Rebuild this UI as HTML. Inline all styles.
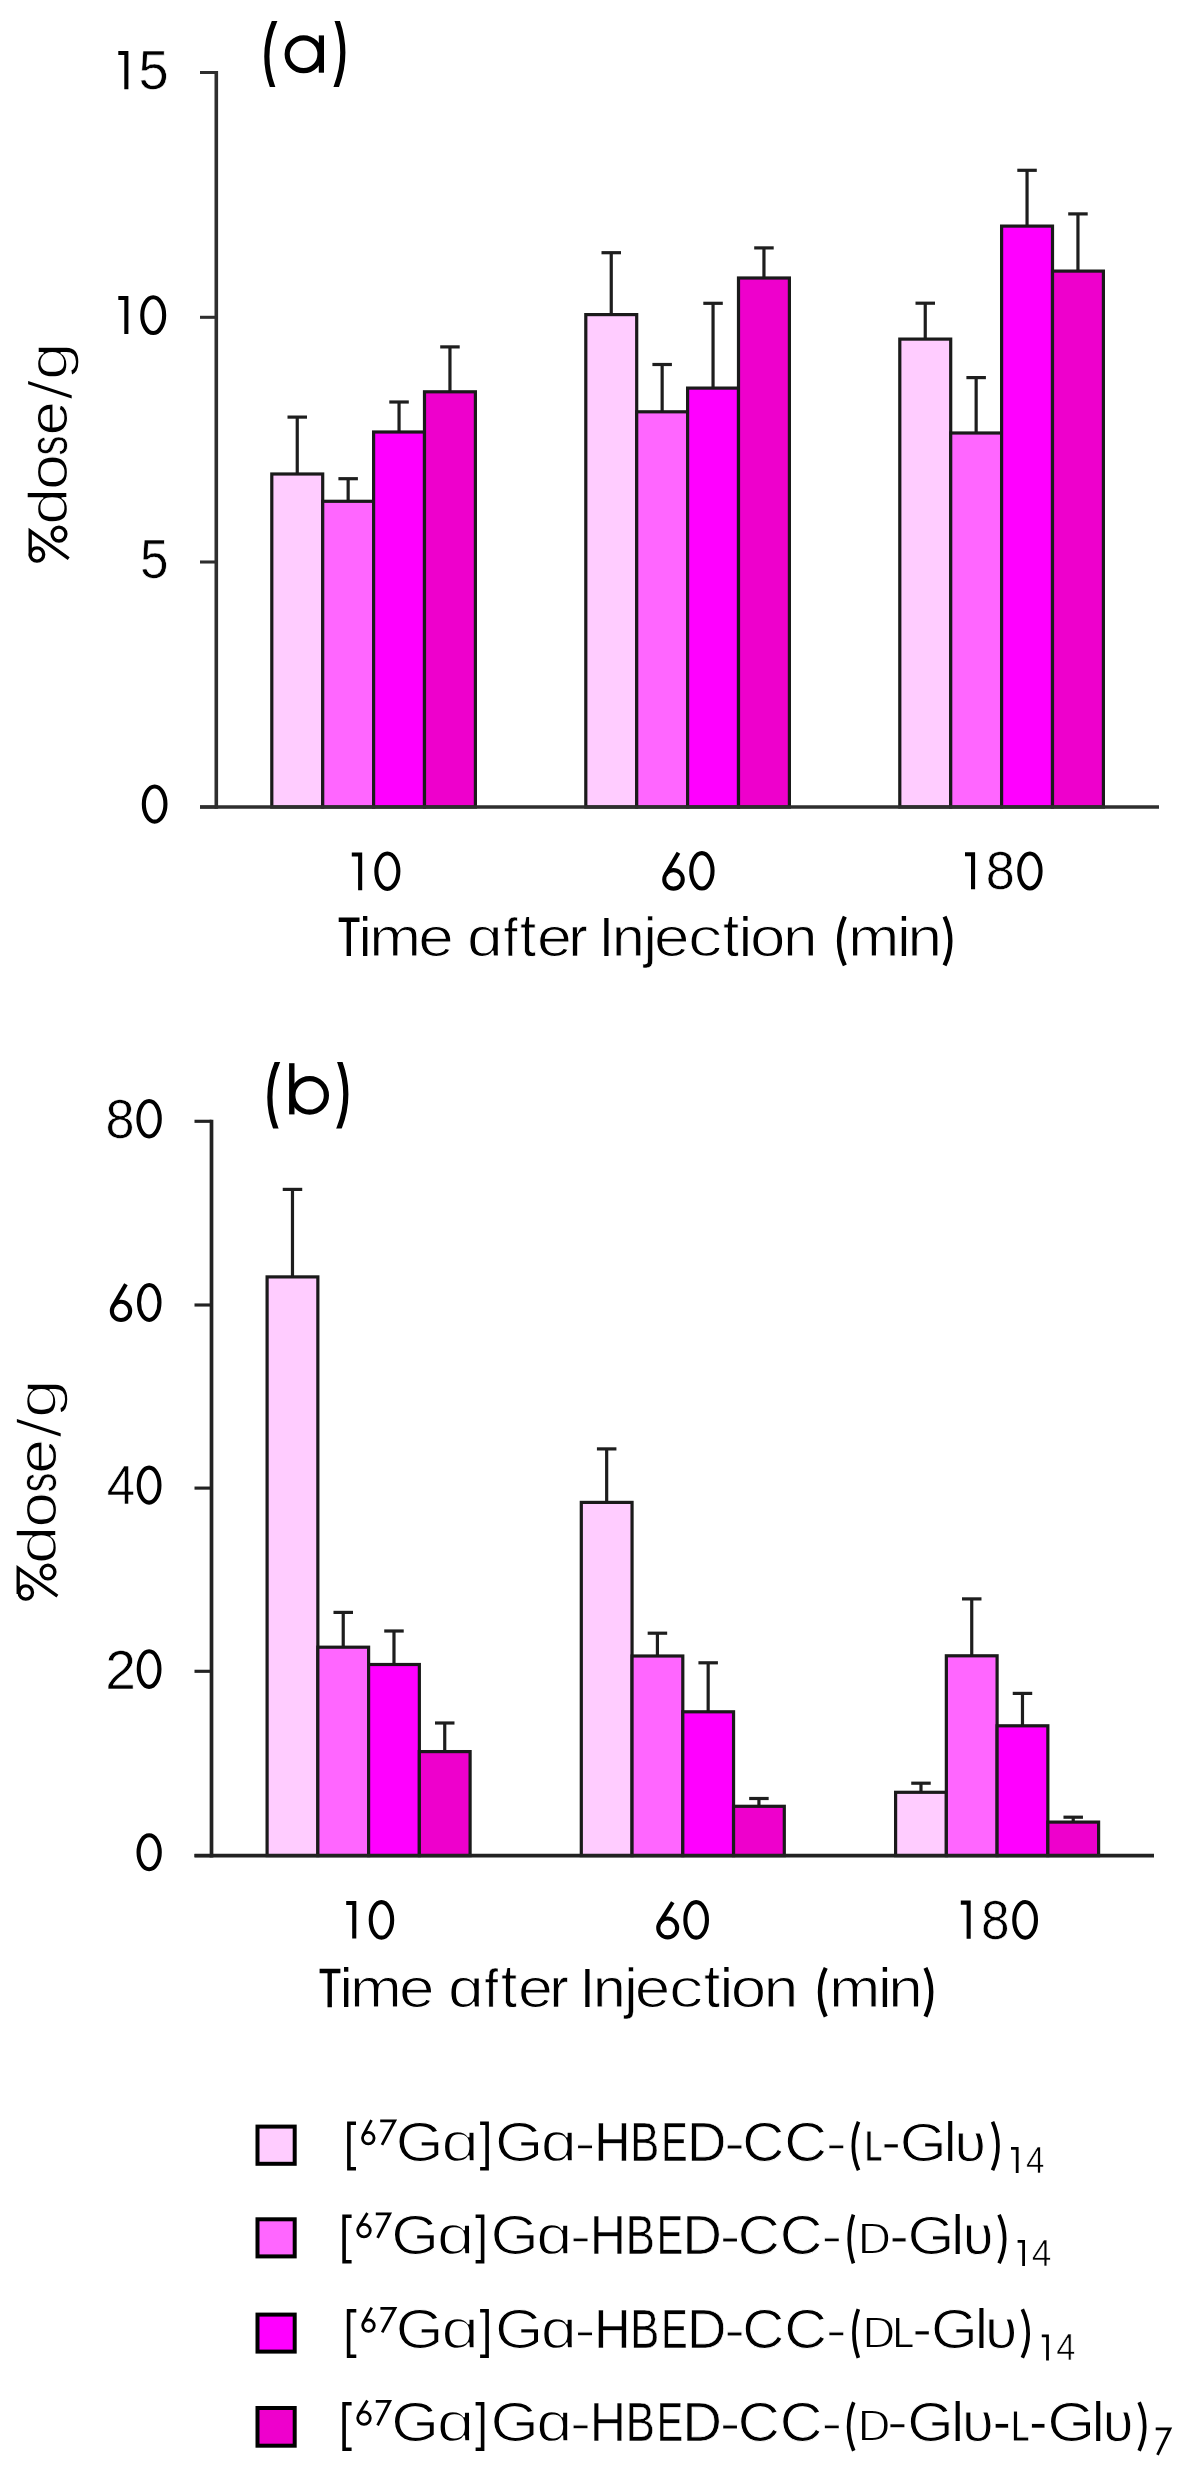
<!DOCTYPE html>
<html><head><meta charset="utf-8"><style>
html,body{margin:0;padding:0;background:#fff;}
svg{display:block;will-change:transform;}
text{font-family:"Liberation Sans",sans-serif;font-kerning:none;}
</style></head><body>
<svg width="1183" height="2474" viewBox="0 0 1183 2474">
<rect width="1183" height="2474" fill="#fff"/>
<g>
<line x1="297.25" y1="474" x2="297.25" y2="417.1" stroke="#1e1e1e" stroke-width="3.2"/>
<line x1="287.5" y1="417.1" x2="307.0" y2="417.1" stroke="#1e1e1e" stroke-width="3.2"/>
<line x1="348.15" y1="501.3" x2="348.15" y2="478.7" stroke="#1e1e1e" stroke-width="3.2"/>
<line x1="338.4" y1="478.7" x2="357.9" y2="478.7" stroke="#1e1e1e" stroke-width="3.2"/>
<line x1="399.05" y1="432" x2="399.05" y2="402" stroke="#1e1e1e" stroke-width="3.2"/>
<line x1="389.3" y1="402" x2="408.8" y2="402" stroke="#1e1e1e" stroke-width="3.2"/>
<line x1="449.95" y1="391.8" x2="449.95" y2="346.9" stroke="#1e1e1e" stroke-width="3.2"/>
<line x1="440.2" y1="346.9" x2="459.7" y2="346.9" stroke="#1e1e1e" stroke-width="3.2"/>
<line x1="611.25" y1="314.6" x2="611.25" y2="252.7" stroke="#1e1e1e" stroke-width="3.2"/>
<line x1="601.5" y1="252.7" x2="621.0" y2="252.7" stroke="#1e1e1e" stroke-width="3.2"/>
<line x1="662.15" y1="411.8" x2="662.15" y2="364.5" stroke="#1e1e1e" stroke-width="3.2"/>
<line x1="652.4" y1="364.5" x2="671.9" y2="364.5" stroke="#1e1e1e" stroke-width="3.2"/>
<line x1="713.05" y1="388.1" x2="713.05" y2="303.3" stroke="#1e1e1e" stroke-width="3.2"/>
<line x1="703.3" y1="303.3" x2="722.8" y2="303.3" stroke="#1e1e1e" stroke-width="3.2"/>
<line x1="763.95" y1="278" x2="763.95" y2="247.9" stroke="#1e1e1e" stroke-width="3.2"/>
<line x1="754.2" y1="247.9" x2="773.7" y2="247.9" stroke="#1e1e1e" stroke-width="3.2"/>
<line x1="925.25" y1="339.1" x2="925.25" y2="303.2" stroke="#1e1e1e" stroke-width="3.2"/>
<line x1="915.5" y1="303.2" x2="935.0" y2="303.2" stroke="#1e1e1e" stroke-width="3.2"/>
<line x1="976.15" y1="433" x2="976.15" y2="377.6" stroke="#1e1e1e" stroke-width="3.2"/>
<line x1="966.4" y1="377.6" x2="985.9" y2="377.6" stroke="#1e1e1e" stroke-width="3.2"/>
<line x1="1027.05" y1="226.1" x2="1027.05" y2="170.3" stroke="#1e1e1e" stroke-width="3.2"/>
<line x1="1017.3" y1="170.3" x2="1036.8" y2="170.3" stroke="#1e1e1e" stroke-width="3.2"/>
<line x1="1077.95" y1="271.1" x2="1077.95" y2="213.9" stroke="#1e1e1e" stroke-width="3.2"/>
<line x1="1068.2" y1="213.9" x2="1087.7" y2="213.9" stroke="#1e1e1e" stroke-width="3.2"/>
<rect x="271.80" y="474.00" width="50.90" height="333.00" fill="#FFCCFF" stroke="#1a1a1a" stroke-width="3.2"/>
<rect x="322.70" y="501.30" width="50.90" height="305.70" fill="#FF66FF" stroke="#1a1a1a" stroke-width="3.2"/>
<rect x="373.60" y="432.00" width="50.90" height="375.00" fill="#FF00FF" stroke="#1a1a1a" stroke-width="3.2"/>
<rect x="424.50" y="391.80" width="50.90" height="415.20" fill="#EE00CC" stroke="#1a1a1a" stroke-width="3.2"/>
<rect x="585.80" y="314.60" width="50.90" height="492.40" fill="#FFCCFF" stroke="#1a1a1a" stroke-width="3.2"/>
<rect x="636.70" y="411.80" width="50.90" height="395.20" fill="#FF66FF" stroke="#1a1a1a" stroke-width="3.2"/>
<rect x="687.60" y="388.10" width="50.90" height="418.90" fill="#FF00FF" stroke="#1a1a1a" stroke-width="3.2"/>
<rect x="738.50" y="278.00" width="50.90" height="529.00" fill="#EE00CC" stroke="#1a1a1a" stroke-width="3.2"/>
<rect x="899.80" y="339.10" width="50.90" height="467.90" fill="#FFCCFF" stroke="#1a1a1a" stroke-width="3.2"/>
<rect x="950.70" y="433.00" width="50.90" height="374.00" fill="#FF66FF" stroke="#1a1a1a" stroke-width="3.2"/>
<rect x="1001.60" y="226.10" width="50.90" height="580.90" fill="#FF00FF" stroke="#1a1a1a" stroke-width="3.2"/>
<rect x="1052.50" y="271.10" width="50.90" height="535.90" fill="#EE00CC" stroke="#1a1a1a" stroke-width="3.2"/>
<line x1="216.3" y1="70.97" x2="216.3" y2="808.8" stroke="#2e2e2e" stroke-width="3.6"/>
<line x1="200" y1="72.5" x2="216.3" y2="72.5" stroke="#2e2e2e" stroke-width="3.06"/>
<line x1="200" y1="317.3" x2="216.3" y2="317.3" stroke="#2e2e2e" stroke-width="3.06"/>
<line x1="200" y1="562" x2="216.3" y2="562" stroke="#2e2e2e" stroke-width="3.06"/>
<line x1="200" y1="807.0" x2="216.3" y2="807.0" stroke="#2e2e2e" stroke-width="3.06"/>
<line x1="200" y1="807.0" x2="1159" y2="807.0" stroke="#2e2e2e" stroke-width="3.6"/>
<line x1="292.48" y1="1276.9" x2="292.48" y2="1189.4" stroke="#1e1e1e" stroke-width="3.2"/>
<line x1="282.73" y1="1189.4" x2="302.23" y2="1189.4" stroke="#1e1e1e" stroke-width="3.2"/>
<line x1="343.23" y1="1647.2" x2="343.23" y2="1612.4" stroke="#1e1e1e" stroke-width="3.2"/>
<line x1="333.48" y1="1612.4" x2="352.98" y2="1612.4" stroke="#1e1e1e" stroke-width="3.2"/>
<line x1="393.98" y1="1664.5" x2="393.98" y2="1631" stroke="#1e1e1e" stroke-width="3.2"/>
<line x1="384.23" y1="1631" x2="403.73" y2="1631" stroke="#1e1e1e" stroke-width="3.2"/>
<line x1="444.73" y1="1751.6" x2="444.73" y2="1723" stroke="#1e1e1e" stroke-width="3.2"/>
<line x1="434.98" y1="1723" x2="454.48" y2="1723" stroke="#1e1e1e" stroke-width="3.2"/>
<line x1="606.67" y1="1502.4" x2="606.67" y2="1448.9" stroke="#1e1e1e" stroke-width="3.2"/>
<line x1="596.92" y1="1448.9" x2="616.42" y2="1448.9" stroke="#1e1e1e" stroke-width="3.2"/>
<line x1="657.42" y1="1656" x2="657.42" y2="1633.2" stroke="#1e1e1e" stroke-width="3.2"/>
<line x1="647.67" y1="1633.2" x2="667.17" y2="1633.2" stroke="#1e1e1e" stroke-width="3.2"/>
<line x1="708.17" y1="1711.8" x2="708.17" y2="1662.8" stroke="#1e1e1e" stroke-width="3.2"/>
<line x1="698.42" y1="1662.8" x2="717.92" y2="1662.8" stroke="#1e1e1e" stroke-width="3.2"/>
<line x1="758.92" y1="1806.3" x2="758.92" y2="1798.5" stroke="#1e1e1e" stroke-width="3.2"/>
<line x1="749.17" y1="1798.5" x2="768.67" y2="1798.5" stroke="#1e1e1e" stroke-width="3.2"/>
<line x1="920.98" y1="1792.3" x2="920.98" y2="1783.2" stroke="#1e1e1e" stroke-width="3.2"/>
<line x1="911.23" y1="1783.2" x2="930.73" y2="1783.2" stroke="#1e1e1e" stroke-width="3.2"/>
<line x1="971.73" y1="1655.8" x2="971.73" y2="1598.9" stroke="#1e1e1e" stroke-width="3.2"/>
<line x1="961.98" y1="1598.9" x2="981.48" y2="1598.9" stroke="#1e1e1e" stroke-width="3.2"/>
<line x1="1022.48" y1="1725.8" x2="1022.48" y2="1693.4" stroke="#1e1e1e" stroke-width="3.2"/>
<line x1="1012.73" y1="1693.4" x2="1032.22" y2="1693.4" stroke="#1e1e1e" stroke-width="3.2"/>
<line x1="1073.22" y1="1822.1" x2="1073.22" y2="1817.2" stroke="#1e1e1e" stroke-width="3.2"/>
<line x1="1063.47" y1="1817.2" x2="1082.97" y2="1817.2" stroke="#1e1e1e" stroke-width="3.2"/>
<rect x="267.10" y="1276.90" width="50.75" height="578.70" fill="#FFCCFF" stroke="#1a1a1a" stroke-width="3.2"/>
<rect x="317.85" y="1647.20" width="50.75" height="208.40" fill="#FF66FF" stroke="#1a1a1a" stroke-width="3.2"/>
<rect x="368.60" y="1664.50" width="50.75" height="191.10" fill="#FF00FF" stroke="#1a1a1a" stroke-width="3.2"/>
<rect x="419.35" y="1751.60" width="50.75" height="104.00" fill="#EE00CC" stroke="#1a1a1a" stroke-width="3.2"/>
<rect x="581.30" y="1502.40" width="50.75" height="353.20" fill="#FFCCFF" stroke="#1a1a1a" stroke-width="3.2"/>
<rect x="632.05" y="1656.00" width="50.75" height="199.60" fill="#FF66FF" stroke="#1a1a1a" stroke-width="3.2"/>
<rect x="682.80" y="1711.80" width="50.75" height="143.80" fill="#FF00FF" stroke="#1a1a1a" stroke-width="3.2"/>
<rect x="733.55" y="1806.30" width="50.75" height="49.30" fill="#EE00CC" stroke="#1a1a1a" stroke-width="3.2"/>
<rect x="895.60" y="1792.30" width="50.75" height="63.30" fill="#FFCCFF" stroke="#1a1a1a" stroke-width="3.2"/>
<rect x="946.35" y="1655.80" width="50.75" height="199.80" fill="#FF66FF" stroke="#1a1a1a" stroke-width="3.2"/>
<rect x="997.10" y="1725.80" width="50.75" height="129.80" fill="#FF00FF" stroke="#1a1a1a" stroke-width="3.2"/>
<rect x="1047.85" y="1822.10" width="50.75" height="33.50" fill="#EE00CC" stroke="#1a1a1a" stroke-width="3.2"/>
<line x1="211.5" y1="1119.7275" x2="211.5" y2="1857.4499999999998" stroke="#222" stroke-width="3.7"/>
<line x1="194.5" y1="1121.3" x2="211.5" y2="1121.3" stroke="#222" stroke-width="3.145"/>
<line x1="194.5" y1="1305" x2="211.5" y2="1305" stroke="#222" stroke-width="3.145"/>
<line x1="194.5" y1="1488.1" x2="211.5" y2="1488.1" stroke="#222" stroke-width="3.145"/>
<line x1="194.5" y1="1671.3" x2="211.5" y2="1671.3" stroke="#222" stroke-width="3.145"/>
<line x1="194.5" y1="1855.6" x2="211.5" y2="1855.6" stroke="#222" stroke-width="3.145"/>
<line x1="194.5" y1="1855.6" x2="1154" y2="1855.6" stroke="#222" stroke-width="3.7"/>
<rect x="257.50" y="2126.60" width="37.20" height="37.20" fill="#FFCCFF" stroke="#000" stroke-width="4"/>
<rect x="257.50" y="2219.30" width="37.20" height="37.10" fill="#FF66FF" stroke="#000" stroke-width="4"/>
<rect x="257.50" y="2314.60" width="37.20" height="37.00" fill="#FF00FF" stroke="#000" stroke-width="4"/>
<rect x="257.50" y="2408.00" width="37.20" height="37.70" fill="#EE00CC" stroke="#000" stroke-width="4"/>
<path d="M118.30,53.05 H126.35 V89.20" fill="none" stroke="#000" stroke-width="4.1" stroke-linejoin="miter"/>
<text transform="matrix(0.9680,0,0,0.9879,138.43,88.86)" font-size="56" fill="#000" stroke="#fff" stroke-width="0.614">5</text>
<path d="M118.30,298.05 H126.35 V334.10" fill="none" stroke="#000" stroke-width="4.1" stroke-linejoin="miter"/>
<ellipse cx="153.20" cy="315.15" rx="10.95" ry="17.90" fill="none" stroke="#000" stroke-width="4.1"/>
<text transform="matrix(0.9152,0,0,1.0032,139.95,577.95)" font-size="56" fill="#000" stroke="#fff" stroke-width="0.626">5</text>
<ellipse cx="154.65" cy="804.10" rx="10.80" ry="17.55" fill="none" stroke="#000" stroke-width="4.1"/>
<path d="M351.80,854.45 H360.15 V890.30" fill="none" stroke="#000" stroke-width="4.1" stroke-linejoin="miter"/>
<ellipse cx="387.35" cy="871.20" rx="11.00" ry="17.65" fill="none" stroke="#000" stroke-width="4.1"/>
<circle cx="673.50" cy="879.40" r="9.25" fill="none" stroke="#000" stroke-width="4.1"/><line x1="665.54" y1="874.69" x2="678.47" y2="852.83" stroke="#000" stroke-width="4.1" stroke-linecap="butt"/>
<ellipse cx="701.90" cy="870.85" rx="10.65" ry="17.70" fill="none" stroke="#000" stroke-width="4.1"/>
<path d="M965.00,854.25 H973.05 V889.20" fill="none" stroke="#000" stroke-width="4.1" stroke-linejoin="miter"/>
<text transform="matrix(0.9324,0,0,0.9635,985.63,889.47)" font-size="56" fill="#000" stroke="#fff" stroke-width="0.633">8</text>
<ellipse cx="1029.90" cy="871.00" rx="10.65" ry="17.45" fill="none" stroke="#000" stroke-width="4.1"/>
<text transform="matrix(0.9324,0,0,0.9912,105.43,1137.96)" font-size="56" fill="#000" stroke="#fff" stroke-width="0.624">8</text>
<ellipse cx="149.10" cy="1118.70" rx="10.65" ry="17.75" fill="none" stroke="#000" stroke-width="4.1"/>
<circle cx="121.00" cy="1310.90" r="9.15" fill="none" stroke="#000" stroke-width="4.1"/><line x1="113.10" y1="1306.28" x2="125.93" y2="1284.34" stroke="#000" stroke-width="4.1" stroke-linecap="butt"/>
<ellipse cx="149.25" cy="1302.45" rx="10.20" ry="17.50" fill="none" stroke="#000" stroke-width="4.1"/>
<text transform="matrix(0.9107,0,0,1.0071,106.83,1504.40)" font-size="56" fill="#000" stroke="#fff" stroke-width="0.626">4</text>
<ellipse cx="149.10" cy="1485.15" rx="10.35" ry="17.50" fill="none" stroke="#000" stroke-width="4.1"/>
<text transform="matrix(0.9839,0,0,1.0076,105.23,1688.60)" font-size="56" fill="#000" stroke="#fff" stroke-width="0.603">2</text>
<ellipse cx="149.10" cy="1669.05" rx="10.35" ry="17.80" fill="none" stroke="#000" stroke-width="4.1"/>
<ellipse cx="149.15" cy="1852.25" rx="10.60" ry="17.00" fill="none" stroke="#000" stroke-width="4.1"/>
<path d="M346.20,1903.05 H354.25 V1938.60" fill="none" stroke="#000" stroke-width="4.1" stroke-linejoin="miter"/>
<ellipse cx="381.45" cy="1919.90" rx="10.70" ry="17.75" fill="none" stroke="#000" stroke-width="4.1"/>
<circle cx="667.70" cy="1927.90" r="9.45" fill="none" stroke="#000" stroke-width="4.1"/><line x1="659.71" y1="1922.85" x2="672.76" y2="1902.23" stroke="#000" stroke-width="4.1" stroke-linecap="butt"/>
<ellipse cx="696.15" cy="1919.90" rx="10.80" ry="17.75" fill="none" stroke="#000" stroke-width="4.1"/>
<path d="M960.80,1902.65 H968.65 V1938.80" fill="none" stroke="#000" stroke-width="4.1" stroke-linejoin="miter"/>
<text transform="matrix(0.9171,0,0,0.9937,981.07,1939.06)" font-size="56" fill="#000" stroke="#fff" stroke-width="0.628">8</text>
<ellipse cx="1025.10" cy="1919.90" rx="10.85" ry="17.85" fill="none" stroke="#000" stroke-width="4.1"/>
<path d="M338.70,919.70 H359.50 M348.80,917.70 V956.00" fill="none" stroke="#000" stroke-width="4.4"/>
<text transform="matrix(0.8784,0,0,1.0000,359.73,956.00)" font-size="55.7" fill="#000">i</text>
<text transform="matrix(1.1162,0,0,1.0000,369.19,956.00)" font-size="55.7" fill="#000" stroke="#fff" stroke-width="1.043">m</text>
<text transform="matrix(1.1487,0,0,1.0000,418.22,956.00)" font-size="55.7" fill="#000" stroke="#fff" stroke-width="1.152">e</text>
<text transform="matrix(1.1561,0,0,1.0000,467.12,956.00)" font-size="55.7" fill="#000" stroke="#fff" stroke-width="1.176">ɑ</text>
<text transform="matrix(0.8498,0,0,0.9670,503.95,956.00)" font-size="55.7" fill="#000" stroke="#fff" stroke-width="0.412">f</text>
<text transform="matrix(1.0398,0,0,1.0885,520.03,956.00)" font-size="55.7" fill="#000" stroke="#fff" stroke-width="0.760">t</text>
<text transform="matrix(1.1252,0,0,1.0000,537.03,956.00)" font-size="55.7" fill="#000" stroke="#fff" stroke-width="1.074">e</text>
<text transform="matrix(1.0078,0,0,1.0000,568.76,956.00)" font-size="55.7" fill="#000" stroke="#fff" stroke-width="0.629">r</text>
<text transform="matrix(0.8278,0,0,1.0000,600.05,956.00)" font-size="55.7" fill="#000">I</text>
<text transform="matrix(1.0551,0,0,1.0000,612.06,956.00)" font-size="55.7" fill="#000" stroke="#fff" stroke-width="0.820">n</text>
<text transform="matrix(0.9635,0,0,1.0000,644.20,956.00)" font-size="55.7" fill="#000" stroke="#fff" stroke-width="0.432">j</text>
<text transform="matrix(1.1487,0,0,1.0000,653.92,956.00)" font-size="55.7" fill="#000" stroke="#fff" stroke-width="1.152">e</text>
<text transform="matrix(1.2500,0,0,1.0000,687.73,956.00)" font-size="55.7" fill="#000" stroke="#fff" stroke-width="1.456">c</text>
<text transform="matrix(1.0398,0,0,1.0885,723.03,956.00)" font-size="55.7" fill="#000" stroke="#fff" stroke-width="0.760">t</text>
<text transform="matrix(0.8784,0,0,1.0000,740.03,956.00)" font-size="55.7" fill="#000">i</text>
<text transform="matrix(1.1446,0,0,1.0000,749.97,956.00)" font-size="55.7" fill="#000" stroke="#fff" stroke-width="1.139">o</text>
<text transform="matrix(1.1137,0,0,1.0000,782.90,956.00)" font-size="55.7" fill="#000" stroke="#fff" stroke-width="1.035">n</text>
<path d="M844.85,916.60 Q833.25,941.00 844.85,965.40" fill="none" stroke="#000" stroke-width="4.3"/>
<text transform="matrix(1.0987,0,0,1.0000,848.30,956.00)" font-size="55.7" fill="#000" stroke="#fff" stroke-width="0.982">m</text>
<text transform="matrix(0.8784,0,0,1.0000,898.53,956.00)" font-size="55.7" fill="#000">i</text>
<text transform="matrix(1.1137,0,0,1.0000,907.40,956.00)" font-size="55.7" fill="#000" stroke="#fff" stroke-width="1.035">n</text>
<path d="M944.55,916.60 Q956.15,941.00 944.55,965.40" fill="none" stroke="#000" stroke-width="4.3"/>
<path d="M319.60,1971.00 H340.40 M329.70,1969.00 V2007.30" fill="none" stroke="#000" stroke-width="4.4"/>
<text transform="matrix(0.8784,0,0,1.0000,340.63,2007.30)" font-size="55.7" fill="#000">i</text>
<text transform="matrix(1.1162,0,0,1.0000,350.09,2007.30)" font-size="55.7" fill="#000" stroke="#fff" stroke-width="1.043">m</text>
<text transform="matrix(1.1487,0,0,1.0000,399.12,2007.30)" font-size="55.7" fill="#000" stroke="#fff" stroke-width="1.152">e</text>
<text transform="matrix(1.1561,0,0,1.0000,448.02,2007.30)" font-size="55.7" fill="#000" stroke="#fff" stroke-width="1.176">ɑ</text>
<text transform="matrix(0.8498,0,0,0.9670,484.85,2007.30)" font-size="55.7" fill="#000" stroke="#fff" stroke-width="0.412">f</text>
<text transform="matrix(1.0398,0,0,1.0885,500.93,2007.30)" font-size="55.7" fill="#000" stroke="#fff" stroke-width="0.760">t</text>
<text transform="matrix(1.1252,0,0,1.0000,517.93,2007.30)" font-size="55.7" fill="#000" stroke="#fff" stroke-width="1.074">e</text>
<text transform="matrix(1.0078,0,0,1.0000,549.66,2007.30)" font-size="55.7" fill="#000" stroke="#fff" stroke-width="0.629">r</text>
<text transform="matrix(0.8278,0,0,1.0000,580.95,2007.30)" font-size="55.7" fill="#000">I</text>
<text transform="matrix(1.0551,0,0,1.0000,592.96,2007.30)" font-size="55.7" fill="#000" stroke="#fff" stroke-width="0.820">n</text>
<text transform="matrix(0.9635,0,0,1.0000,625.10,2007.30)" font-size="55.7" fill="#000" stroke="#fff" stroke-width="0.432">j</text>
<text transform="matrix(1.1487,0,0,1.0000,634.82,2007.30)" font-size="55.7" fill="#000" stroke="#fff" stroke-width="1.152">e</text>
<text transform="matrix(1.2500,0,0,1.0000,668.63,2007.30)" font-size="55.7" fill="#000" stroke="#fff" stroke-width="1.456">c</text>
<text transform="matrix(1.0398,0,0,1.0885,703.93,2007.30)" font-size="55.7" fill="#000" stroke="#fff" stroke-width="0.760">t</text>
<text transform="matrix(0.8784,0,0,1.0000,720.93,2007.30)" font-size="55.7" fill="#000">i</text>
<text transform="matrix(1.1446,0,0,1.0000,730.87,2007.30)" font-size="55.7" fill="#000" stroke="#fff" stroke-width="1.139">o</text>
<text transform="matrix(1.1137,0,0,1.0000,763.80,2007.30)" font-size="55.7" fill="#000" stroke="#fff" stroke-width="1.035">n</text>
<path d="M825.75,1967.90 Q814.15,1992.30 825.75,2016.70" fill="none" stroke="#000" stroke-width="4.3"/>
<text transform="matrix(1.0987,0,0,1.0000,829.20,2007.30)" font-size="55.7" fill="#000" stroke="#fff" stroke-width="0.982">m</text>
<text transform="matrix(0.8784,0,0,1.0000,879.43,2007.30)" font-size="55.7" fill="#000">i</text>
<text transform="matrix(1.1137,0,0,1.0000,888.30,2007.30)" font-size="55.7" fill="#000" stroke="#fff" stroke-width="1.035">n</text>
<path d="M925.45,1967.90 Q937.05,1992.30 925.45,2016.70" fill="none" stroke="#000" stroke-width="4.3"/>
<clipPath id="pc1"><rect x="0" y="20.9" width="1183" height="66.0"/></clipPath><path clip-path="url(#pc1)" d="M275.98,17.83 L274.4,21.5 Q260.40,54.00 272.4,86.5 L273.79,90.25" fill="none" stroke="#000" stroke-width="5.2"/>
<clipPath id="pc2"><rect x="0" y="20.9" width="1183" height="66.0"/></clipPath><path clip-path="url(#pc2)" d="M336.09,17.72 L337.4,21.5 Q348.70,54.00 336.4,86.5 L334.98,90.24" fill="none" stroke="#000" stroke-width="5.2"/>
<circle cx="303.6" cy="54.2" r="16.4" fill="none" stroke="#000" stroke-width="5.2"/>
<line x1="321.4" y1="35.4" x2="321.4" y2="72.7" stroke="#000" stroke-width="5.2"/>
<clipPath id="pc3"><rect x="0" y="1062.0" width="1183" height="66.59999999999991"/></clipPath><path clip-path="url(#pc3)" d="M278.75,1058.81 L277.2,1062.5 Q263.30,1095.50 275.8,1128.5 L277.22,1132.24" fill="none" stroke="#000" stroke-width="5.2"/>
<clipPath id="pc4"><rect x="0" y="1062.0" width="1183" height="66.59999999999991"/></clipPath><path clip-path="url(#pc4)" d="M338.62,1058.74 L340.0,1062.5 Q352.10,1095.50 339.0,1128.5 L337.52,1132.22" fill="none" stroke="#000" stroke-width="5.2"/>
<circle cx="309.6" cy="1095.4" r="16.8" fill="none" stroke="#000" stroke-width="5.2"/>
<line x1="291.8" y1="1063.2" x2="291.8" y2="1114.4" stroke="#000" stroke-width="5.4"/>
<g transform="rotate(-90)"><text transform="matrix(1.2058,0,0,1.0000,-525.02,67.30)" font-size="55.7" fill="#000" stroke="#fff" stroke-width="1.329">d</text><text transform="matrix(1.1586,0,0,1.0000,-490.10,67.30)" font-size="55.7" fill="#000" stroke="#fff" stroke-width="1.184">o</text><text transform="matrix(0.7205,0,0,1.0000,-455.47,67.30)" font-size="55.7" fill="#000" stroke="#fff" stroke-width="0.694">s</text><text transform="matrix(1.0969,0,0,1.0000,-435.23,67.30)" font-size="55.7" fill="#000" stroke="#fff" stroke-width="0.975">e</text><text transform="matrix(1.2107,0,0,1.0000,-380.05,67.30)" font-size="55.7" fill="#000" stroke="#fff" stroke-width="1.344">g</text></g>
<g transform="rotate(-90)"><text transform="matrix(1.2554,0,0,1.0000,-1564.16,55.70)" font-size="55.7" fill="#000" stroke="#fff" stroke-width="1.470">d</text><text transform="matrix(1.1400,0,0,1.0000,-1527.41,55.70)" font-size="55.7" fill="#000" stroke="#fff" stroke-width="1.123">o</text><text transform="matrix(0.7041,0,0,1.0000,-1492.34,55.70)" font-size="55.7" fill="#000" stroke="#fff" stroke-width="0.710">s</text><text transform="matrix(1.1205,0,0,1.0000,-1473.74,55.70)" font-size="55.7" fill="#000" stroke="#fff" stroke-width="1.058">e</text><text transform="matrix(1.2554,0,0,1.0000,-1418.06,55.70)" font-size="55.7" fill="#000" stroke="#fff" stroke-width="1.470">g</text></g>
<path d="M30.20,556.60 V531.00 L68.70,558.60" fill="none" stroke="#000" stroke-width="3.3" stroke-linejoin="miter"/><circle cx="37.00" cy="554.50" r="6.7" fill="none" stroke="#000" stroke-width="3.3"/><circle cx="59.00" cy="534.10" r="6.9" fill="none" stroke="#000" stroke-width="3.3"/>
<path d="M18.20,1594.10 V1568.20 L57.40,1596.10" fill="none" stroke="#000" stroke-width="3.3" stroke-linejoin="miter"/><circle cx="25.80" cy="1592.50" r="6.7" fill="none" stroke="#000" stroke-width="3.3"/><circle cx="48.00" cy="1572.00" r="6.9" fill="none" stroke="#000" stroke-width="3.3"/>
<path d="M28.10,381.05 L71.70,395.25 L71.70,398.55 L28.10,384.35 Z" fill="#000"/>
<path d="M16.90,1419.05 L60.70,1433.25 L60.70,1436.55 L16.90,1422.35 Z" fill="#000"/>
<path d="M356.00,2123.30 H348.90 V2168.80 H356.00" fill="none" stroke="#000" stroke-width="3.6" stroke-linejoin="miter"/>
<circle cx="368.30" cy="2138.10" r="5.80" fill="none" stroke="#000" stroke-width="2.8"/><line x1="363.20" y1="2135.34" x2="371.47" y2="2120.08" stroke="#000" stroke-width="2.8" stroke-linecap="butt"/>
<path d="M380.20,2120.90 H394.76 L382.00,2144.90" fill="none" stroke="#000" stroke-width="2.8" stroke-linejoin="miter" stroke-miterlimit="10"/>
<text transform="matrix(1.1250,0,0,1.0000,395.86,2160.50)" font-size="54.6" fill="#000" stroke="#fff" stroke-width="1.154">G</text>
<text transform="matrix(1.2452,0,0,1.0000,441.31,2160.50)" font-size="54.6" fill="#000" stroke="#fff" stroke-width="1.506">ɑ</text>
<path d="M480.10,2123.30 H487.10 V2168.80 H480.10" fill="none" stroke="#000" stroke-width="3.6" stroke-linejoin="miter"/>
<text transform="matrix(1.1379,0,0,1.0000,494.99,2160.50)" font-size="54.6" fill="#000" stroke="#fff" stroke-width="1.196">G</text>
<text transform="matrix(1.1896,0,0,1.0000,540.87,2160.50)" font-size="54.6" fill="#000" stroke="#fff" stroke-width="1.352">ɑ</text>
<text transform="matrix(1.1604,0,0,1.0000,574.55,2160.50)" font-size="54.6" fill="#000" stroke="#fff" stroke-width="1.266">-</text>
<text transform="matrix(0.9066,0,0,1.0000,594.46,2160.50)" font-size="54.6" fill="#000" stroke="#fff" stroke-width="0.386">H</text>
<text transform="matrix(0.7966,0,0,1.0000,630.16,2160.50)" font-size="54.6" fill="#000" stroke="#fff" stroke-width="0.439">B</text>
<text transform="matrix(0.7248,0,0,1.0000,661.18,2160.50)" font-size="54.6" fill="#000" stroke="#fff" stroke-width="0.483">E</text>
<text transform="matrix(0.9985,0,0,1.0000,686.98,2160.50)" font-size="54.6" fill="#000" stroke="#fff" stroke-width="0.693">D</text>
<text transform="matrix(1.1370,0,0,1.0000,724.26,2160.50)" font-size="54.6" fill="#000" stroke="#fff" stroke-width="1.193">-</text>
<text transform="matrix(1.0679,0,0,1.0000,742.33,2160.50)" font-size="54.6" fill="#000" stroke="#fff" stroke-width="0.959">C</text>
<text transform="matrix(1.0846,0,0,1.0000,784.34,2160.50)" font-size="54.6" fill="#000" stroke="#fff" stroke-width="1.019">C</text>
<text transform="matrix(1.1604,0,0,1.0000,825.75,2160.50)" font-size="54.6" fill="#000" stroke="#fff" stroke-width="1.266">-</text>
<path d="M858.55,2121.70 Q848.15,2146.00 858.55,2170.30" fill="none" stroke="#000" stroke-width="3.7"/>
<text transform="matrix(0.8816,0,0,1.0613,863.74,2160.50)" font-size="54.6" fill="#000" stroke="#fff" stroke-width="0.942">ʟ</text>
<text transform="matrix(1.0901,0,0,1.0000,881.29,2160.50)" font-size="54.6" fill="#000" stroke="#fff" stroke-width="1.038">-</text>
<text transform="matrix(1.1055,0,0,1.0000,899.76,2160.50)" font-size="54.6" fill="#000" stroke="#fff" stroke-width="1.090">G</text>
<text transform="matrix(0.8544,0,0,1.0000,945.06,2160.50)" font-size="54.6" fill="#000">l</text>
<text transform="matrix(1.0528,0,0,1.0000,954.49,2160.50)" font-size="54.6" fill="#000" stroke="#fff" stroke-width="0.904">ᴜ</text>
<path d="M992.55,2121.70 Q1003.35,2146.00 992.55,2170.30" fill="none" stroke="#000" stroke-width="3.7"/>
<path d="M1011.00,2148.40 H1017.20 V2172.90" fill="none" stroke="#000" stroke-width="2.8" stroke-linejoin="miter"/>
<text transform="matrix(0.5989,0,0,0.6748,1025.88,2172.95)" font-size="56" fill="#000" stroke="#fff" stroke-width="1.099">4</text>
<path d="M351.60,2216.30 H344.10 V2261.80 H351.60" fill="none" stroke="#000" stroke-width="3.6" stroke-linejoin="miter"/>
<circle cx="364.00" cy="2230.60" r="6.30" fill="none" stroke="#000" stroke-width="2.8"/><line x1="358.64" y1="2227.30" x2="367.39" y2="2213.08" stroke="#000" stroke-width="2.8" stroke-linecap="butt"/>
<path d="M375.80,2213.90 H389.76 L377.60,2237.90" fill="none" stroke="#000" stroke-width="2.8" stroke-linejoin="miter" stroke-miterlimit="10"/>
<text transform="matrix(1.1250,0,0,1.0000,391.36,2253.50)" font-size="54.6" fill="#000" stroke="#fff" stroke-width="1.154">G</text>
<text transform="matrix(1.2452,0,0,1.0000,436.81,2253.50)" font-size="54.6" fill="#000" stroke="#fff" stroke-width="1.506">ɑ</text>
<path d="M475.60,2216.30 H482.60 V2261.80 H475.60" fill="none" stroke="#000" stroke-width="3.6" stroke-linejoin="miter"/>
<text transform="matrix(1.1379,0,0,1.0000,490.49,2253.50)" font-size="54.6" fill="#000" stroke="#fff" stroke-width="1.196">G</text>
<text transform="matrix(1.1896,0,0,1.0000,536.37,2253.50)" font-size="54.6" fill="#000" stroke="#fff" stroke-width="1.352">ɑ</text>
<text transform="matrix(1.1604,0,0,1.0000,570.05,2253.50)" font-size="54.6" fill="#000" stroke="#fff" stroke-width="1.266">-</text>
<text transform="matrix(0.9066,0,0,1.0000,589.96,2253.50)" font-size="54.6" fill="#000" stroke="#fff" stroke-width="0.386">H</text>
<text transform="matrix(0.7966,0,0,1.0000,625.66,2253.50)" font-size="54.6" fill="#000" stroke="#fff" stroke-width="0.439">B</text>
<text transform="matrix(0.7248,0,0,1.0000,656.68,2253.50)" font-size="54.6" fill="#000" stroke="#fff" stroke-width="0.483">E</text>
<text transform="matrix(0.9985,0,0,1.0000,682.48,2253.50)" font-size="54.6" fill="#000" stroke="#fff" stroke-width="0.693">D</text>
<text transform="matrix(1.1370,0,0,1.0000,719.76,2253.50)" font-size="54.6" fill="#000" stroke="#fff" stroke-width="1.193">-</text>
<text transform="matrix(1.0679,0,0,1.0000,737.83,2253.50)" font-size="54.6" fill="#000" stroke="#fff" stroke-width="0.959">C</text>
<text transform="matrix(1.0846,0,0,1.0000,779.84,2253.50)" font-size="54.6" fill="#000" stroke="#fff" stroke-width="1.019">C</text>
<text transform="matrix(1.1604,0,0,1.0000,821.25,2253.50)" font-size="54.6" fill="#000" stroke="#fff" stroke-width="1.266">-</text>
<path d="M853.45,2214.70 Q845.05,2239.00 853.45,2263.30" fill="none" stroke="#000" stroke-width="3.7"/>
<text transform="matrix(1.1487,0,0,1.0835,857.11,2253.50)" font-size="54.6" fill="#000" stroke="#fff" stroke-width="1.839">ᴅ</text>
<text transform="matrix(1.0549,0,0,1.0000,889.46,2253.50)" font-size="54.6" fill="#000" stroke="#fff" stroke-width="0.912">-</text>
<text transform="matrix(1.1055,0,0,1.0000,907.46,2253.50)" font-size="54.6" fill="#000" stroke="#fff" stroke-width="1.090">G</text>
<text transform="matrix(0.8544,0,0,1.0000,952.46,2253.50)" font-size="54.6" fill="#000">l</text>
<text transform="matrix(1.0158,0,0,1.0000,962.91,2253.50)" font-size="54.6" fill="#000" stroke="#fff" stroke-width="0.762">ᴜ</text>
<path d="M999.05,2214.70 Q1010.25,2239.00 999.05,2263.30" fill="none" stroke="#000" stroke-width="3.7"/>
<path d="M1017.60,2241.40 H1023.60 V2265.90" fill="none" stroke="#000" stroke-width="2.8" stroke-linejoin="miter"/>
<text transform="matrix(0.6308,0,0,0.6748,1031.64,2265.95)" font-size="56" fill="#000" stroke="#fff" stroke-width="1.072">4</text>
<path d="M356.30,2310.80 H348.60 V2356.30 H356.30" fill="none" stroke="#000" stroke-width="3.6" stroke-linejoin="miter"/>
<circle cx="368.50" cy="2325.60" r="5.80" fill="none" stroke="#000" stroke-width="2.8"/><line x1="363.40" y1="2322.84" x2="371.67" y2="2307.58" stroke="#000" stroke-width="2.8" stroke-linecap="butt"/>
<path d="M380.40,2308.40 H394.96 L382.20,2332.40" fill="none" stroke="#000" stroke-width="2.8" stroke-linejoin="miter" stroke-miterlimit="10"/>
<text transform="matrix(1.1250,0,0,1.0000,395.86,2348.00)" font-size="54.6" fill="#000" stroke="#fff" stroke-width="1.154">G</text>
<text transform="matrix(1.2452,0,0,1.0000,441.31,2348.00)" font-size="54.6" fill="#000" stroke="#fff" stroke-width="1.506">ɑ</text>
<path d="M480.10,2310.80 H487.10 V2356.30 H480.10" fill="none" stroke="#000" stroke-width="3.6" stroke-linejoin="miter"/>
<text transform="matrix(1.1379,0,0,1.0000,494.99,2348.00)" font-size="54.6" fill="#000" stroke="#fff" stroke-width="1.196">G</text>
<text transform="matrix(1.1896,0,0,1.0000,540.87,2348.00)" font-size="54.6" fill="#000" stroke="#fff" stroke-width="1.352">ɑ</text>
<text transform="matrix(1.1604,0,0,1.0000,574.55,2348.00)" font-size="54.6" fill="#000" stroke="#fff" stroke-width="1.266">-</text>
<text transform="matrix(0.9066,0,0,1.0000,594.46,2348.00)" font-size="54.6" fill="#000" stroke="#fff" stroke-width="0.386">H</text>
<text transform="matrix(0.7966,0,0,1.0000,630.16,2348.00)" font-size="54.6" fill="#000" stroke="#fff" stroke-width="0.439">B</text>
<text transform="matrix(0.7248,0,0,1.0000,661.18,2348.00)" font-size="54.6" fill="#000" stroke="#fff" stroke-width="0.483">E</text>
<text transform="matrix(0.9985,0,0,1.0000,686.98,2348.00)" font-size="54.6" fill="#000" stroke="#fff" stroke-width="0.693">D</text>
<text transform="matrix(1.1370,0,0,1.0000,724.26,2348.00)" font-size="54.6" fill="#000" stroke="#fff" stroke-width="1.193">-</text>
<text transform="matrix(1.0679,0,0,1.0000,742.33,2348.00)" font-size="54.6" fill="#000" stroke="#fff" stroke-width="0.959">C</text>
<text transform="matrix(1.0846,0,0,1.0000,784.34,2348.00)" font-size="54.6" fill="#000" stroke="#fff" stroke-width="1.019">C</text>
<text transform="matrix(1.1604,0,0,1.0000,825.75,2348.00)" font-size="54.6" fill="#000" stroke="#fff" stroke-width="1.266">-</text>
<path d="M858.35,2309.20 Q849.55,2333.50 858.35,2357.80" fill="none" stroke="#000" stroke-width="3.7"/>
<text transform="matrix(1.1283,0,0,1.0818,861.63,2348.00)" font-size="54.6" fill="#000" stroke="#fff" stroke-width="1.786">ᴅ</text>
<text transform="matrix(1.0895,0,0,1.0786,891.29,2348.00)" font-size="54.6" fill="#000" stroke="#fff" stroke-width="1.678">ʟ</text>
<text transform="matrix(1.0901,0,0,1.0000,912.19,2348.00)" font-size="54.6" fill="#000" stroke="#fff" stroke-width="1.038">-</text>
<text transform="matrix(1.1023,0,0,1.0000,931.08,2348.00)" font-size="54.6" fill="#000" stroke="#fff" stroke-width="1.079">G</text>
<text transform="matrix(0.8544,0,0,1.0000,976.26,2348.00)" font-size="54.6" fill="#000">l</text>
<text transform="matrix(1.0845,0,0,1.0000,985.00,2348.00)" font-size="54.6" fill="#000" stroke="#fff" stroke-width="1.018">ᴜ</text>
<path d="M1022.35,2309.20 Q1033.95,2333.50 1022.35,2357.80" fill="none" stroke="#000" stroke-width="3.7"/>
<path d="M1041.80,2335.90 H1047.50 V2360.40" fill="none" stroke="#000" stroke-width="2.8" stroke-linejoin="miter"/>
<text transform="matrix(0.6166,0,0,0.6748,1056.16,2360.45)" font-size="56" fill="#000" stroke="#fff" stroke-width="1.084">4</text>
<path d="M351.60,2403.80 H344.10 V2449.30 H351.60" fill="none" stroke="#000" stroke-width="3.6" stroke-linejoin="miter"/>
<circle cx="364.00" cy="2418.10" r="6.30" fill="none" stroke="#000" stroke-width="2.8"/><line x1="358.64" y1="2414.80" x2="367.39" y2="2400.58" stroke="#000" stroke-width="2.8" stroke-linecap="butt"/>
<path d="M375.80,2401.40 H389.76 L377.60,2425.40" fill="none" stroke="#000" stroke-width="2.8" stroke-linejoin="miter" stroke-miterlimit="10"/>
<text transform="matrix(1.1250,0,0,1.0000,391.36,2441.00)" font-size="54.6" fill="#000" stroke="#fff" stroke-width="1.154">G</text>
<text transform="matrix(1.2452,0,0,1.0000,436.81,2441.00)" font-size="54.6" fill="#000" stroke="#fff" stroke-width="1.506">ɑ</text>
<path d="M475.60,2403.80 H482.60 V2449.30 H475.60" fill="none" stroke="#000" stroke-width="3.6" stroke-linejoin="miter"/>
<text transform="matrix(1.1379,0,0,1.0000,490.49,2441.00)" font-size="54.6" fill="#000" stroke="#fff" stroke-width="1.196">G</text>
<text transform="matrix(1.1896,0,0,1.0000,536.37,2441.00)" font-size="54.6" fill="#000" stroke="#fff" stroke-width="1.352">ɑ</text>
<text transform="matrix(1.1604,0,0,1.0000,570.05,2441.00)" font-size="54.6" fill="#000" stroke="#fff" stroke-width="1.266">-</text>
<text transform="matrix(0.9066,0,0,1.0000,589.96,2441.00)" font-size="54.6" fill="#000" stroke="#fff" stroke-width="0.386">H</text>
<text transform="matrix(0.7966,0,0,1.0000,625.66,2441.00)" font-size="54.6" fill="#000" stroke="#fff" stroke-width="0.439">B</text>
<text transform="matrix(0.7248,0,0,1.0000,656.68,2441.00)" font-size="54.6" fill="#000" stroke="#fff" stroke-width="0.483">E</text>
<text transform="matrix(0.9985,0,0,1.0000,682.48,2441.00)" font-size="54.6" fill="#000" stroke="#fff" stroke-width="0.693">D</text>
<text transform="matrix(1.1370,0,0,1.0000,719.76,2441.00)" font-size="54.6" fill="#000" stroke="#fff" stroke-width="1.193">-</text>
<text transform="matrix(1.0679,0,0,1.0000,737.83,2441.00)" font-size="54.6" fill="#000" stroke="#fff" stroke-width="0.959">C</text>
<text transform="matrix(1.0846,0,0,1.0000,779.84,2441.00)" font-size="54.6" fill="#000" stroke="#fff" stroke-width="1.019">C</text>
<text transform="matrix(1.1604,0,0,1.0000,821.25,2441.00)" font-size="54.6" fill="#000" stroke="#fff" stroke-width="1.266">-</text>
<path d="M853.75,2402.20 Q843.55,2426.50 853.75,2450.80" fill="none" stroke="#000" stroke-width="3.7"/>
<text transform="matrix(1.1283,0,0,1.0818,856.93,2441.00)" font-size="54.6" fill="#000" stroke="#fff" stroke-width="1.786">ᴅ</text>
<text transform="matrix(1.1722,0,0,1.0000,886.79,2441.00)" font-size="54.6" fill="#000" stroke="#fff" stroke-width="1.301">-</text>
<text transform="matrix(1.0925,0,0,1.0000,907.13,2441.00)" font-size="54.6" fill="#000" stroke="#fff" stroke-width="1.046">G</text>
<text transform="matrix(0.8544,0,0,1.0000,952.51,2441.00)" font-size="54.6" fill="#000">l</text>
<text transform="matrix(1.0634,0,0,1.0000,961.93,2441.00)" font-size="54.6" fill="#000" stroke="#fff" stroke-width="0.943">ᴜ</text>
<text transform="matrix(0.9963,0,0,1.0000,992.64,2441.00)" font-size="54.6" fill="#000" stroke="#fff" stroke-width="0.684">-</text>
<text transform="matrix(0.9232,0,0,1.0648,1010.09,2441.00)" font-size="54.6" fill="#000" stroke="#fff" stroke-width="1.116">ʟ</text>
<text transform="matrix(0.9963,0,0,1.0000,1029.14,2441.00)" font-size="54.6" fill="#000" stroke="#fff" stroke-width="0.684">-</text>
<text transform="matrix(1.1314,0,0,1.0000,1047.23,2441.00)" font-size="54.6" fill="#000" stroke="#fff" stroke-width="1.175">G</text>
<text transform="matrix(0.8544,0,0,1.0000,1092.96,2441.00)" font-size="54.6" fill="#000">l</text>
<text transform="matrix(1.0263,0,0,1.0000,1102.65,2441.00)" font-size="54.6" fill="#000" stroke="#fff" stroke-width="0.804">ᴜ</text>
<path d="M1139.15,2402.20 Q1150.15,2426.50 1139.15,2450.80" fill="none" stroke="#000" stroke-width="3.7"/>
<path d="M1155.70,2428.90 H1169.96 L1157.50,2454.80" fill="none" stroke="#000" stroke-width="2.8" stroke-linejoin="miter" stroke-miterlimit="10"/>
</g>
</svg>
</body></html>
